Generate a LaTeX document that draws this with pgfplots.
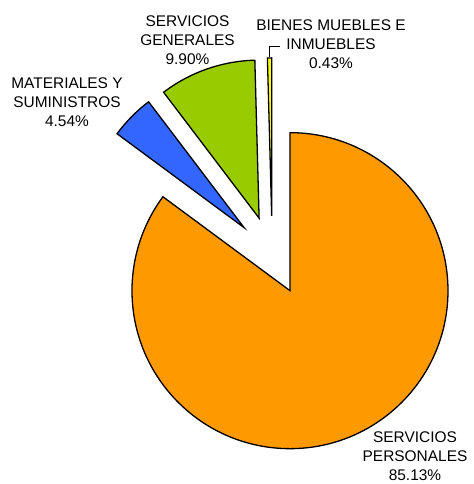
\documentclass[border=0pt]{standalone}
\usepackage{pgfplots}
\pgfplotsset{compat=1.18}
\usepackage{pgfplotstable}
\usetikzlibrary{calc}
\usepackage{fontspec}
\setmainfont{Liberation Sans}
\definecolor{cPers}{HTML}{FF9900}
\definecolor{cMat}{HTML}{3366FF}
\definecolor{cGen}{HTML}{99CC00}
\definecolor{cBien}{HTML}{FFFF00}

\pgfplotstableread{
label value
Personales 85.13
Materiales 4.54
Generales 9.90
Bienes 0.43
}\piedata

\begin{document}
\begin{tikzpicture}
\begin{axis}[scale only axis, width=474bp, height=484bp,
  xmin=0, xmax=474, ymin=0, ymax=484, hide axis, clip=false]
\path[use as bounding box] (axis cs:0,0) rectangle (axis cs:474,484);
\pgfplotsextra{
  \gdef\cum{0}
  \foreach \i/\col in {0/cPers,1/cMat,2/cGen,3/cBien}{
    \pgfplotstablegetelem{\i}{value}\of\piedata
    \let\v\pgfplotsretval
    \pgfmathsetmacro{\aA}{90-3.6*\cum}
    \pgfmathsetmacro{\aB}{90-3.6*(\cum+\v)}
    \pgfmathsetmacro{\am}{(\aA+\aB)/2}
    \filldraw[fill=\col, draw=black, line width=1.3bp]
      ($(axis cs:272.2,228.6)+(\am:39.5bp)$) -- ++(\aA:158bp)
      arc[start angle=\aA, end angle=\aB, radius=158bp] -- cycle;
    \pgfmathsetmacro{\newcum}{\cum+\v}
    \global\let\cum\newcum
  }
}
\draw[black, line width=1bp] (axis cs:269.5,427) -- (axis cs:269.5,437) -- (axis cs:280,437);
\tikzset{lab/.style={align=center, inner sep=0pt, font=\fontsize{15.5}{19}\selectfont}}
\node[lab] at (axis cs:415,28) {SERVICIOS\\PERSONALES\\85.13\%};
\node[lab] at (axis cs:67,382) {MATERIALES Y\\SUMINISTROS\\4.54\%};
\node[lab] at (axis cs:187.5,444) {SERVICIOS\\GENERALES\\9.90\%};
\node[lab] at (axis cs:331,440) {BIENES MUEBLES E\\INMUEBLES\\0.43\%};
\end{axis}
\end{tikzpicture}
\end{document}
